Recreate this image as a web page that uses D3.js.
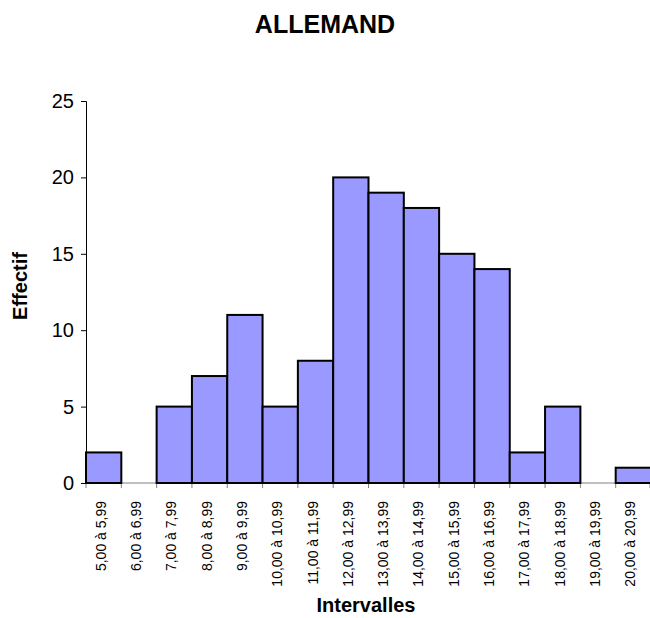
<!DOCTYPE html>
<html lang="fr">
<head>
<meta charset="utf-8">
<title>ALLEMAND</title>
<script src="https://cdn.jsdelivr.net/npm/d3@7"></script>
<style>
  body { margin: 0; background: #fff; }
  text { font-family: Arial, "Liberation Sans", sans-serif; }
</style>
</head>
<body>
<script>
// data
var categories = ["5,00 à 5,99", "6,00 à 6,99", "7,00 à 7,99", "8,00 à 8,99", "9,00 à 9,99",
  "10,00 à 10,99", "11,00 à 11,99", "12,00 à 12,99", "13,00 à 13,99", "14,00 à 14,99",
  "15,00 à 15,99", "16,00 à 16,99", "17,00 à 17,99", "18,00 à 18,99", "19,00 à 19,99", "20,00 à 20,99"];
var effectif = [2, 0, 5, 7, 11, 5, 8, 20, 19, 18, 15, 14, 2, 5, 0, 1];
var yTicks = [0, 5, 10, 15, 20, 25];

var w = 650, h = 618;
var plotLeft = 86, plotRight = 651, plotTop = 101, plotBottom = 483;

var svg = d3.select("body").append("svg")
  .attr("width", w).attr("height", h);

var xScale = d3.scaleBand().domain(categories).range([plotLeft, plotRight]).padding(0);
var yScale = d3.scaleLinear().domain([0, 25]).range([plotBottom, plotTop]);

// X axis line and ticks (on category edges)
var edges = categories.map(function(c) { return xScale(c); }).concat([plotRight - 1]);
var xg = svg.append("g");
xg.append("line")
  .attr("x1", plotLeft).attr("x2", plotRight)
  .attr("y1", plotBottom).attr("y2", plotBottom)
  .attr("stroke", "#808080").attr("stroke-width", 1);
xg.selectAll("line.tick")
  .data(edges)
  .enter()
  .append("line")
  .attr("class", "tick")
  .attr("x1", function(d) { return d; }).attr("x2", function(d) { return d; })
  .attr("y1", plotBottom).attr("y2", plotBottom + 5)
  .attr("stroke", "#808080");

// bars
var barData = categories.map(function(c, i) { return { cat: c, v: effectif[i] }; })
  .filter(function(d) { return d.v > 0; });
svg.selectAll("rect.bar")
  .data(barData)
  .enter()
  .append("rect")
  .attr("class", "bar")
  .attr("x", function(d) { return xScale(d.cat); })
  .attr("y", function(d) { return yScale(d.v); })
  .attr("width", xScale.bandwidth())
  .attr("height", function(d) { return plotBottom - yScale(d.v); })
  .attr("fill", "#9999ff")
  .attr("stroke", "#000")
  .attr("stroke-width", 2);

xg.selectAll("text")
  .data(categories)
  .enter()
  .append("text")
  .attr("transform", function(d) {
    return "translate(" + (xScale(d) + xScale.bandwidth() / 2 + 2) + "," + (plotBottom + 18) + ") rotate(-90)";
  })
  .attr("text-anchor", "end")
  .attr("font-size", "14px")
  .text(function(d) { return d; });

// Y axis
var yAxis = d3.axisLeft(yScale).tickValues(yTicks).tickSize(5).tickPadding(7);
var yg = svg.append("g")
  .attr("transform", "translate(" + plotLeft + ",0)")
  .call(yAxis);
yg.select(".domain").attr("stroke", "#000");
yg.selectAll(".tick line").attr("stroke", "#000");
yg.selectAll(".tick text")
  .attr("font-size", "20px")
  .attr("font-family", "Arial, 'Liberation Sans', sans-serif")
  .attr("fill", "#000");

// titles
svg.append("text")
  .attr("x", 325).attr("y", 33)
  .attr("text-anchor", "middle")
  .attr("font-size", "25px").attr("font-weight", "bold")
  .text("ALLEMAND");

svg.append("text")
  .attr("transform", "translate(27,286) rotate(-90)")
  .attr("text-anchor", "middle")
  .attr("font-size", "20px").attr("font-weight", "bold")
  .text("Effectif");

svg.append("text")
  .attr("x", 366).attr("y", 612)
  .attr("text-anchor", "middle")
  .attr("font-size", "20px").attr("font-weight", "bold")
  .text("Intervalles");
</script>
</body>
</html>
